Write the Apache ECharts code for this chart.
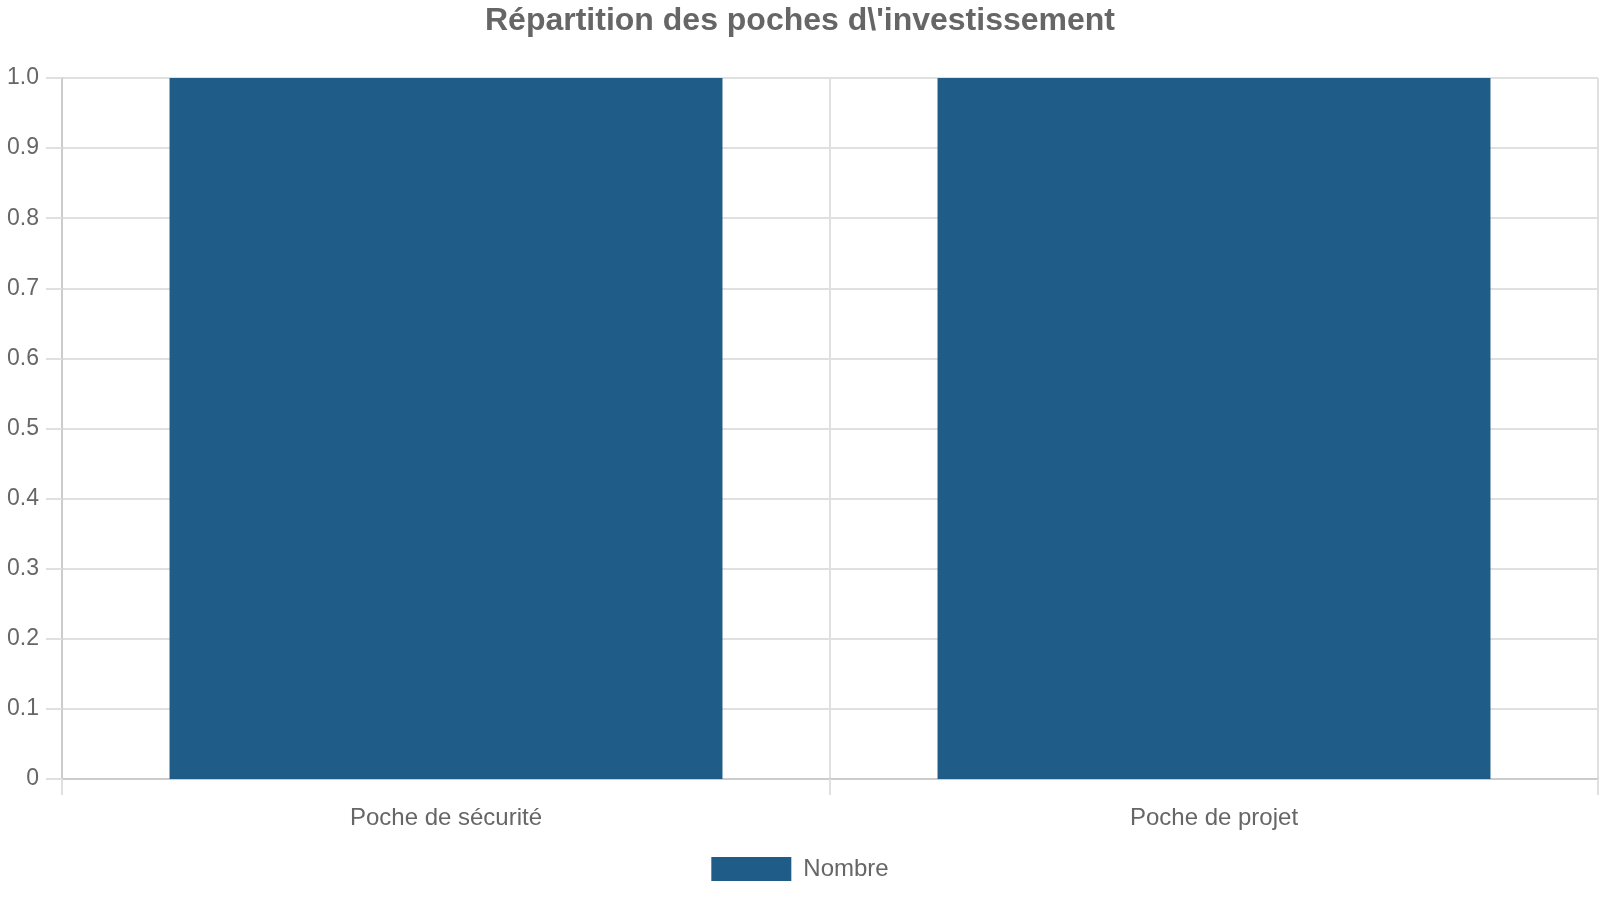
<!DOCTYPE html>
<html>
<head>
<meta charset="utf-8">
<title>Répartition des poches</title>
<script src="https://cdn.jsdelivr.net/npm/echarts@6/dist/echarts.min.js"></script>
<style>
  html, body { margin: 0; padding: 0; background: #fff; }
  #chart { width: 1600px; height: 900px; }
</style>
</head>
<body>
<div id="chart"></div>
<script>
var chartTitle = "Répartition des poches d\\'investissement";
var categories = ['Poche de sécurité', 'Poche de projet'];
var seriesName = 'Nombre';
var nombreValues = [1, 1];
var yMin = 0, yMax = 1, yStep = 0.1;

var barColor = '#1f5c87';
var textColor = '#666666';
var fontName = '"Liberation Sans", Arial, sans-serif';

// graphique en barres
var option = {
    animation: false,
    title: {
        text: chartTitle,
        left: 'center',
        top: 1,
        padding: [4, 5],
        textStyle: {
            color: textColor,
            fontSize: 32,
            fontWeight: 'bold',
            fontFamily: fontName
        }
    },
    legend: {
        data: [seriesName],
        left: 'center',
        top: 852,
        icon: 'rect',
        itemWidth: 80,
        itemHeight: 24,
        textStyle: {
            color: textColor,
            fontSize: 24,
            fontFamily: fontName,
            padding: [0, 0, 0, 7]
        }
    },
    grid: {
        left: 62,
        right: 2,
        top: 78,
        bottom: 121,
        containLabel: false
    },
    xAxis: {
        type: 'category',
        data: categories,
        axisLine: { lineStyle: { color: '#cccccc', width: 2 } },
        axisTick: { show: true, length: 16, lineStyle: { color: '#e0e0e0', width: 2 } },
        splitLine: { show: true, lineStyle: { color: '#e0e0e0', width: 2 } },
        axisLabel: {
            color: textColor,
            fontSize: 24,
            fontFamily: fontName,
            margin: 27
        }
    },
    yAxis: {
        type: 'value',
        min: yMin,
        max: yMax,
        interval: yStep,
        axisLine: { show: true, lineStyle: { color: '#cccccc', width: 2 } },
        axisTick: { show: true, length: 16, lineStyle: { color: '#e0e0e0', width: 2 } },
        splitLine: { show: true, lineStyle: { color: '#e0e0e0', width: 2 } },
        axisLabel: {
            color: textColor,
            fontSize: 23,
            fontFamily: fontName,
            margin: 23,
            formatter: function (v) {
                return v === 0 ? '0' : v.toFixed(1);
            }
        }
    },
    series: [{
        name: seriesName,
        type: 'bar',
        data: nombreValues,
        barCategoryGap: '28%',
        itemStyle: { color: barColor }
    }]
};

var chart = echarts.init(document.getElementById('chart'));
chart.setOption(option);
</script>
</body>
</html>
